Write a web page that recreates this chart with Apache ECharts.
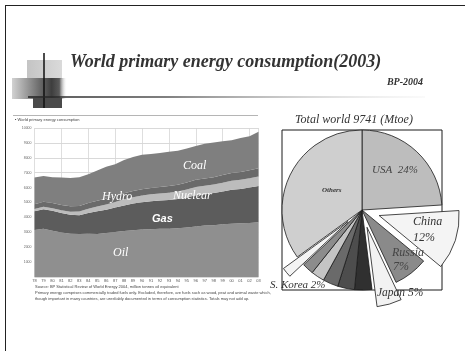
<!DOCTYPE html>
<html>
<head>
<meta charset="utf-8">
<script src="https://cdn.jsdelivr.net/npm/echarts@6/dist/echarts.min.js"></script>
<style>
  html, body { margin: 0; padding: 0; background: #fff; }
  #chart { width: 465px; height: 351px; }
</style>
</head>
<body>
<div id="chart"></div>
<script>
// World primary energy consumption by fuel, Mtoe
const years = ['1978','1979','1980','1981','1982','1983','1984','1985','1986','1987','1988','1989','1990',
               '1991','1992','1993','1994','1995','1996','1997','1998','1999','2000','2001','2002','2003'];
const fuelNames = ['Oil', 'Gas', 'Nuclear', 'Hydro', 'Coal'];
const oil     = [3150,3230,3100,2980,2900,2880,2900,2890,2960,3020,3080,3130,3180,3200,3230,3230,3280,3330,3390,3450,3480,3540,3580,3600,3630,3680];
const gas     = [1260,1320,1340,1310,1270,1270,1400,1520,1560,1640,1720,1800,1840,1880,1900,1930,1950,2010,2100,2110,2150,2200,2280,2310,2370,2420];
const nuclear = [150,160,170,190,210,240,280,320,350,380,410,430,450,470,480,500,510,530,550,560,570,590,600,610,620,640];
const hydro   = [330,340,350,355,360,370,380,390,395,400,410,415,420,430,435,450,455,470,480,490,500,510,520,525,540,560];
const coal    = [1780,1730,1740,1845,1910,1930,1940,2030,2135,2120,2230,2275,2310,2280,2285,2290,2285,2290,2280,2340,2330,2270,2200,2285,2290,2441];
const yTicks  = [0,1000,2000,3000,4000,5000,6000,7000,8000,9000,10000];

// Share of world total, %
const totalWorld = 9741;
const countries = ['USA','China','Russia','Japan','India','Germany','Canada','France','UK','S. Korea','Others'];
const shares    = [24, 12, 7, 5, 3.5, 3.4, 3.1, 2.7, 2.3, 2, 35];
const exploded  = ['China', 'Japan', 'S. Korea'];

const fuelColors = ['#8f8f8f', '#5c5c5c', '#bcbcbc', '#6a6a6a', '#7f7f7f'];
const sliceColors = ['#bdbdbd','#f4f4f4','#8a8a8a','#f2f2f2','#303030','#4d4d4d','#6a6a6a','#c4c4c4','#8c8c8c','#f4f4f4','#cfcfcf'];

const serif = 'Liberation Serif, Times New Roman, serif';
const sans = 'Liberation Sans, Arial, sans-serif';

const chart = echarts.init(document.getElementById('chart'), null, { renderer: 'canvas' });

const fuelData = [oil, gas, nuclear, hydro, coal];
const areaSeries = fuelNames.map((name, i) => ({
  name,
  type: 'line',
  stack: 'fuel',
  data: fuelData[i],
  symbol: 'none',
  lineStyle: { width: 0 },
  areaStyle: { color: fuelColors[i], opacity: 1 },
  silent: true,
  z: 3
}));

const pieSeries = {
  type: 'pie',
  center: [362, 210],
  radius: 80,
  startAngle: 90,
  clockwise: true,
  selectedMode: 'multiple',
  selectedOffset: 18,
  label: { show: false },
  labelLine: { show: false },
  emphasis: { disabled: true },
  itemStyle: { borderColor: '#1a1a1a', borderWidth: 0.8 },
  data: countries.map((name, i) => ({
    name,
    value: shares[i],
    selected: exploded.includes(name),
    itemStyle: { color: sliceColors[i] },
    select: { itemStyle: { color: sliceColors[i], borderColor: '#1a1a1a', borderWidth: 0.8 } }
  })),
  z: 5
};

const pct = (name) => shares[countries.indexOf(name)] + '%';
const italic = (text, x, y, size, color, extra) => ({
  type: 'text', z: 20,
  style: Object.assign({
    text, x, y, fill: color || '#3a3a3a',
    font: `italic ${size}px ${serif}`,
    textAlign: 'left', textVerticalAlign: 'middle'
  }, extra || {})
});

const graphics = [
  // slide frame
  { type: 'line', z: 1, shape: { x1: 5, y1: 5.5, x2: 465, y2: 5.5 }, style: { stroke: '#222', lineWidth: 1 } },
  { type: 'line', z: 1, shape: { x1: 5.5, y1: 5, x2: 5.5, y2: 351 }, style: { stroke: '#222', lineWidth: 1 } },
  // decorative blocks by the title
  { type: 'rect', z: 1, shape: { x: 27, y: 60, width: 35, height: 19 },
    style: { fill: new echarts.graphic.LinearGradient(0, 0, 1, 0, [
      { offset: 0, color: '#c4c4c4' }, { offset: 1, color: '#dadada' }]) } },
  { type: 'rect', z: 1, shape: { x: 12, y: 78, width: 55, height: 21 },
    style: { fill: new echarts.graphic.LinearGradient(0, 0, 1, 0, [
      { offset: 0, color: '#d2d2d2' }, { offset: 0.72, color: '#3e3e3e' },
      { offset: 0.86, color: '#5a5a5a' }, { offset: 1, color: 'rgba(255,255,255,0)' }]) } },
  { type: 'rect', z: 1, shape: { x: 33, y: 98, width: 29, height: 10 }, style: { fill: '#4a4a4a' } },
  { type: 'line', z: 2, shape: { x1: 44, y1: 53, x2: 44, y2: 108 }, style: { stroke: '#111', lineWidth: 1.5 } },
  { type: 'line', z: 2, shape: { x1: 28, y1: 97, x2: 425, y2: 97 },
    style: { lineWidth: 1.5, stroke: new echarts.graphic.LinearGradient(0, 0, 1, 0, [
      { offset: 0, color: '#1e1e1e' }, { offset: 0.35, color: '#555' }, { offset: 1, color: 'rgba(235,235,235,0.3)' }]) } },
  // titles
  { type: 'text', z: 20, style: { text: 'World primary energy consumption(2003)', x: 70, y: 62,
    font: `italic bold 18px ${serif}`, fill: '#333', textAlign: 'left', textVerticalAlign: 'middle' } },
  { type: 'text', z: 20, style: { text: 'BP-2004', x: 423, y: 82,
    font: `italic bold 10px ${serif}`, fill: '#333', textAlign: 'right', textVerticalAlign: 'middle' } },

  // area chart header and notes
  { type: 'line', z: 1, shape: { x1: 13, y1: 115.5, x2: 258, y2: 115.5 }, style: { stroke: '#b5b5b5', lineWidth: 1 } },
  { type: 'text', z: 20, style: { text: '\u25aa World primary energy consumption', x: 15, y: 120,
    font: `4px ${sans}`, fill: '#444', textVerticalAlign: 'middle' } },
  { type: 'text', z: 20, style: { text: 'Source: BP Statistical Review of World Energy 2004, million tonnes oil equivalent', x: 35, y: 287,
    font: `4px ${sans}`, fill: '#444', textVerticalAlign: 'middle' } },
  { type: 'text', z: 20, style: { text: 'Primary energy comprises commercially traded fuels only. Excluded, therefore, are fuels such as wood, peat and animal waste which,', x: 35, y: 293,
    font: `4px ${sans}`, fill: '#444', textVerticalAlign: 'middle' } },
  { type: 'text', z: 20, style: { text: 'though important in many countries, are unreliably documented in terms of consumption statistics. Totals may not add up.', x: 35, y: 299,
    font: `4px ${sans}`, fill: '#444', textVerticalAlign: 'middle' } },

  // fuel labels
  italic(fuelNames[4], 183, 166, 12, '#fff'),
  italic(fuelNames[3], 102, 197, 12, '#fff'),
  italic(fuelNames[2], 173, 196, 12, '#fff'),
  { type: 'text', z: 20, style: { text: fuelNames[1], x: 152, y: 219, font: `italic bold 11px ${sans}`,
    fill: '#fff', textVerticalAlign: 'middle' } },
  italic(fuelNames[0], 113, 253, 12, '#fff'),

  // pie frame and labels
  { type: 'rect', z: 0, shape: { x: 282, y: 130, width: 160, height: 160 }, style: { fill: 'none', stroke: '#1a1a1a', lineWidth: 1 } },
  italic('Total world ' + totalWorld + ' (Mtoe)', 295, 120, 12, '#333'),
  italic('USA  ' + pct('USA'), 372, 170, 11, '#444'),
  { type: 'text', z: 20, style: { text: 'Others', x: 322, y: 190, font: `italic bold 7px ${serif}`,
    fill: '#333', textVerticalAlign: 'middle' } },
  italic('China', 413, 222, 12, '#333'),
  italic(pct('China'), 413, 238, 12, '#333'),
  italic('Russia', 392, 253, 12, '#444'),
  italic(pct('Russia'), 393, 267, 12, '#444'),
  italic('Japan ' + pct('Japan'), 377, 293, 11.5, '#333'),
  italic('S. Korea ' + pct('S. Korea'), 270, 285, 11, '#333')
];

chart.setOption({
  animation: false,
  backgroundColor: '#fff',
  grid: { left: 34.5, right: 206.5, top: 128, bottom: 74, containLabel: false },
  xAxis: {
    type: 'category',
    data: years,
    boundaryGap: false,
    axisLine: { show: false },
    axisTick: { show: false },
    axisLabel: { fontSize: 4, color: '#555', margin: 2, interval: 0, formatter: v => v.slice(2) },
    splitLine: { show: true, interval: 2, lineStyle: { color: '#d6d6d6', width: 0.8 } }
  },
  yAxis: {
    type: 'value',
    min: yTicks[0],
    max: yTicks[yTicks.length - 1],
    interval: yTicks[1] - yTicks[0],
    axisLine: { show: false },
    axisTick: { show: false },
    axisLabel: { fontSize: 3.5, color: '#666', margin: 3, formatter: v => (v === 0 ? '' : String(v)) },
    splitLine: { lineStyle: { color: '#cfcfcf', width: 0.8 } }
  },
  series: [...areaSeries, pieSeries],
  graphic: graphics
});
</script>
</body>
</html>
